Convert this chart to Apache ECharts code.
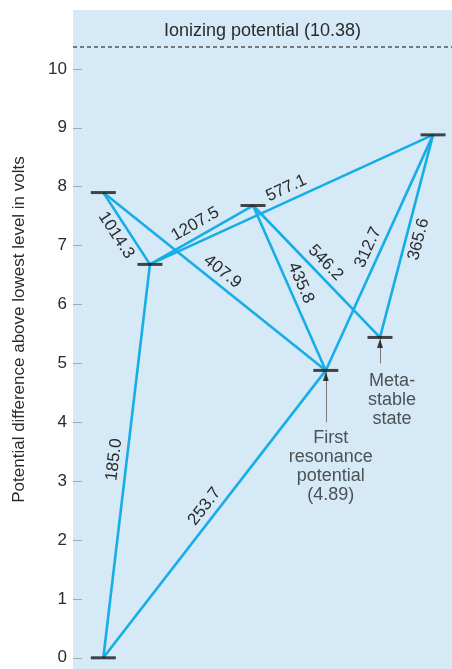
<!DOCTYPE html>
<html>
<head>
<meta charset="utf-8">
<script src="https://cdn.jsdelivr.net/npm/echarts@6/dist/echarts.min.js"></script>
<style>
  html, body { margin: 0; padding: 0; background: #fff; }
  #chart { width: 452px; height: 669px; }
</style>
</head>
<body>
<div id="chart"></div>
<script>
// energy levels of mercury (volts above ground) and their horizontal slot (0-100)
const levelValues = [0, 4.88, 5.44, 6.68, 7.68, 7.90, 8.88];
const levelSlots  = [8.0, 66.7, 81.0, 20.3, 47.5, 8.0, 95.0];

// transitions: from level index -> to level index, wavelength (nm) label, label side
const transFrom   = [0, 0, 5, 5, 3, 3, 4, 4, 1, 2];
const transTo     = [3, 1, 3, 1, 4, 6, 1, 2, 6, 6];
const wavelengths = ['185.0', '253.7', '1014.3', '407.9', '1207.5', '577.1', '435.8', '546.2', '312.7', '365.6'];
const labelSides  = ['top', 'top', 'bottom', 'top', 'top', 'top', 'top', 'top', 'top', 'bottom'];

// arrows pointing up at two levels
const arrowLevels = [1, 2];
const arrowFrom   = [4.0, 5.0];

// annotation notes
const noteSlots  = [68.0, 84.2];
const noteValues = [3.90, 4.86];
const noteTexts  = ['First\nresonance\npotential\n(4.89)', 'Meta-\nstable\nstate'];

const ionizing = 10.38;
const yTicks = [0, 1, 2, 3, 4, 5, 6, 7, 8, 9, 10];

const FONT = '"Liberation Sans", Arial, sans-serif';
const LINE_COLOR = '#17ade6';
const TEXT_COLOR = '#2b2b2b';

const chart = echarts.init(document.getElementById('chart'));

let transData = [];
for (let i = 0; i < transFrom.length; i++) {
  const a = transFrom[i], b = transTo[i];
  transData.push({
    name: wavelengths[i],
    coords: [[levelSlots[a], levelValues[a]], [levelSlots[b], levelValues[b]]],
    label: { position: labelSides[i] === 'top' ? 'insideMiddleTop' : 'insideMiddleBottom' }
  });
}

let arrowData = [];
let arrowHeads = [];
for (let i = 0; i < arrowLevels.length; i++) {
  const l = arrowLevels[i];
  arrowData.push({ coords: [[levelSlots[l], arrowFrom[i]], [levelSlots[l], levelValues[l]]] });
  arrowHeads.push([levelSlots[l], levelValues[l]]);
}

const option = {
  animation: false,
  textStyle: { fontFamily: FONT },
  grid: {
    left: 73, right: 0, top: 10, bottom: 0,
    show: true, backgroundColor: '#d5e9f7', borderWidth: 0,
    outerBoundsMode: 'none'
  },
  xAxis: { type: 'value', min: 0, max: 100, show: false },
  yAxis: {
    type: 'value', min: -0.19, max: 11,
    name: 'Potential difference above lowest level in volts',
    nameLocation: 'middle', nameGap: 45,
    nameTextStyle: { fontSize: 17, color: TEXT_COLOR, fontFamily: FONT, padding: [0, 0, 0, 20] },
    axisLine: { show: false },
    splitLine: { show: false },
    axisTick: { show: true, inside: true, length: 9, customValues: yTicks, lineStyle: { color: '#a8a8a8', width: 1 } },
    axisLabel: { customValues: yTicks, fontSize: 17, color: TEXT_COLOR, margin: 6, fontFamily: FONT }
  },
  series: [
    {
      type: 'lines',
      coordinateSystem: 'cartesian2d',
      z: 2,
      lineStyle: { color: LINE_COLOR, width: 2.6, opacity: 1 },
      label: { show: true, formatter: '{b}', fontSize: 17, color: TEXT_COLOR, distance: 4, fontFamily: FONT },
      data: transData
    },
    {
      type: 'lines',
      coordinateSystem: 'cartesian2d',
      z: 2,
      lineStyle: { color: '#7a7a7a', width: 1, opacity: 1 },
      data: arrowData
    },
    {
      type: 'scatter',
      z: 3,
      symbol: 'triangle',
      symbolSize: [6, 9],
      symbolOffset: [0, 6],
      itemStyle: { color: '#111' },
      data: arrowHeads
    },
    {
      type: 'scatter',
      z: 4,
      symbol: 'rect',
      symbolSize: [25, 3],
      itemStyle: { color: '#1a1a1a' },
      data: levelValues.map((v, i) => [levelSlots[i], v]),
      markLine: {
        silent: true,
        symbol: 'none',
        lineStyle: { type: [4, 3], color: '#555', width: 1.5 },
        label: {
          position: 'insideMiddleTop', formatter: 'Ionizing potential (10.38)',
          fontSize: 18, color: TEXT_COLOR, distance: 6, fontFamily: FONT
        },
        data: [{ yAxis: ionizing }]
      }
    },
    {
      type: 'scatter',
      z: 4,
      symbolSize: 0,
      label: {
        show: true, position: 'bottom', distance: 0,
        formatter: p => noteTexts[p.dataIndex],
        fontSize: 18, lineHeight: 19, color: TEXT_COLOR, align: 'center', fontFamily: FONT
      },
      data: noteSlots.map((x, i) => [x, noteValues[i]])
    }
  ]
};

chart.setOption(option);
</script>
</body>
</html>
